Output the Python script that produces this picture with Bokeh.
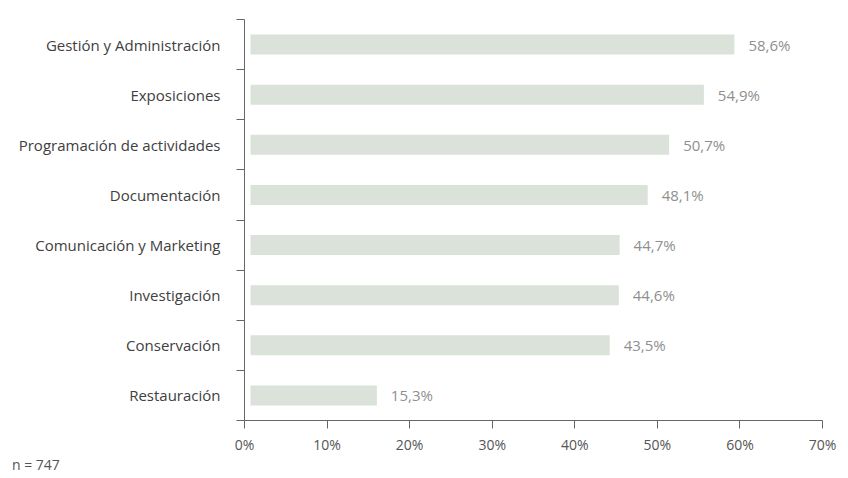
from bokeh.plotting import figure
from bokeh.models import FixedTicker, Range1d, ColumnDataSource, Div
from bokeh.layouts import column
from bokeh.core.properties import value
from bokeh.embed import file_html
from bokeh.resources import INLINE

categories = ["Gestión y Administración", "Exposiciones", "Programación de actividades",
              "Documentación", "Comunicación y Marketing", "Investigación",
              "Conservación", "Restauración"]
values = [58.6, 54.9, 50.7, 48.1, 44.7, 44.6, 43.5, 15.3]
x_ticks = [0, 10, 20, 30, 40, 50, 60, 70]
note = "n = 747"

n = len(categories)
ypos = [n - i - 0.5 for i in range(n)]
labels = [f"{v:.1f}%".replace(".", ",") for v in values]

FONT = "Open Sans"

p = figure(width=840, height=456, output_backend="svg", toolbar_location=None,
           x_range=Range1d(0, 70), y_range=Range1d(0, n),
           min_border_left=244, min_border_right=18, min_border_top=19, min_border_bottom=34)
p.extra_x_ranges = {"bars": Range1d(-0.73, 70 - 0.73)}

src = ColumnDataSource(dict(y=ypos, v=values, lab=labels))
p.hbar(y="y", left=0, right="v", height=0.4, source=src, x_range_name="bars",
       fill_color="#dae2d9", line_color=None)
p.text(x="v", y="y", text="lab", source=src, x_range_name="bars", x_offset=14,
       text_baseline="middle", text_align="left", text_color="#8f8f8f",
       text_font=value(FONT), text_font_size="15px")

p.grid.visible = False
p.outline_line_color = None
p.background_fill_color = "white"

xa = p.xaxis[0]
xa.ticker = FixedTicker(ticks=x_ticks)
xa.major_label_overrides = {t: f"{t}%" for t in x_ticks}
xa.axis_line_color = "#666666"
xa.major_tick_line_color = "#666666"
xa.major_tick_out = 8
xa.major_tick_in = 0
xa.minor_tick_line_color = None
xa.major_label_standoff = 6
xa.major_label_text_font = FONT
xa.major_label_text_font_size = "14px"
xa.major_label_text_color = "#555555"

ya = p.yaxis[0]
ya.ticker = FixedTicker(ticks=ypos, minor_ticks=list(range(n + 1)))
ya.major_label_overrides = {y: c for y, c in zip(ypos, categories)}
ya.axis_line_color = "#666666"
ya.major_tick_line_color = None
ya.major_tick_out = 0
ya.major_tick_in = 0
ya.minor_tick_line_color = "#666666"
ya.minor_tick_out = 8
ya.minor_tick_in = 0
ya.major_label_standoff = 16
ya.major_label_text_font = FONT
ya.major_label_text_font_size = "15px"
ya.major_label_text_color = "#404040"

note_div = Div(text=note, width=200, height=18, margin=(0, 0, 0, 12),
               styles={"font-family": FONT, "font-size": "14px", "color": "#555555",
                       "line-height": "18px"})

layout = column(p, note_div, spacing=0)
open("out.html", "w").write(file_html(layout, INLINE))
